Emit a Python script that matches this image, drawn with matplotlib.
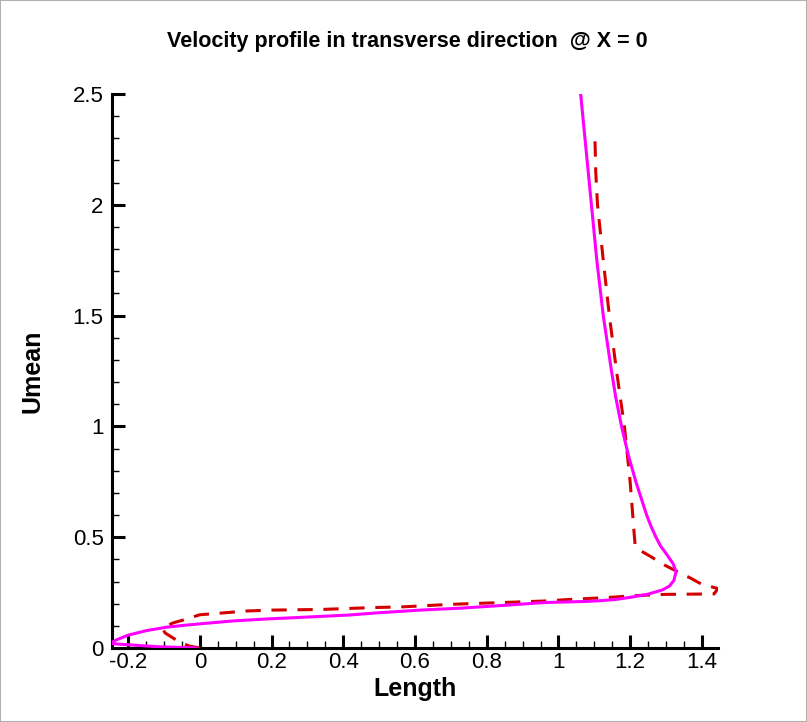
import matplotlib
matplotlib.use('Agg')
import matplotlib.pyplot as plt
from matplotlib.patches import Rectangle
from matplotlib.ticker import MultipleLocator, FormatStrFormatter

plt.rcParams['font.family'] = ['Liberation Sans', 'DejaVu Sans']
plt.rcParams['axes.unicode_minus'] = False

title = 'Velocity profile in transverse direction  @ X = 0'
x_label = 'Length'
y_label = 'Umean'

# сплошная линия (пурпурная)
sim_x = [-0.01, -0.12, -0.25, -0.235, -0.2, -0.15, -0.093, -0.04, 0.0, 0.092, 0.186,
         0.279, 0.418, 0.498, 0.614, 0.729, 0.844, 0.96, 1.075, 1.114, 1.16, 1.206,
         1.25, 1.29, 1.31, 1.322, 1.328, 1.32, 1.303, 1.285, 1.272, 1.258, 1.246,
         1.23, 1.216, 1.195, 1.176, 1.16, 1.148, 1.136, 1.125, 1.107, 1.092, 1.077, 1.062]
sim_y = [0.0, 0.006, 0.02, 0.035, 0.058, 0.078, 0.094, 0.103, 0.109, 0.122, 0.131,
         0.138, 0.149, 0.159, 0.171, 0.18, 0.192, 0.205, 0.21, 0.213, 0.219, 0.23,
         0.243, 0.262, 0.28, 0.305, 0.344, 0.38, 0.42, 0.46, 0.5, 0.55, 0.6,
         0.68, 0.75, 0.87, 1.0, 1.13, 1.25, 1.38, 1.5, 1.75, 2.0, 2.25, 2.5]

# пунктир (красный)
ref_x = [0.0, -0.03, -0.06, -0.097, -0.105, -0.075, -0.047, 0.0, 0.07, 0.13, 0.2,
         0.34, 0.475, 0.57, 0.7, 0.84, 0.96, 1.04, 1.13, 1.21, 1.3, 1.434, 1.445,
         1.398, 1.37, 1.318, 1.295, 1.258, 1.226, 1.214, 1.212, 1.2, 1.184, 1.162,
         1.142, 1.125, 1.109, 1.104, 1.102]
ref_y = [0.0, 0.009, 0.03, 0.068, 0.09, 0.113, 0.126, 0.15, 0.159, 0.167, 0.171,
         0.174, 0.182, 0.186, 0.197, 0.205, 0.212, 0.22, 0.227, 0.236, 0.242, 0.244, 0.268,
         0.289, 0.314, 0.356, 0.375, 0.412, 0.442, 0.46, 0.5, 0.75, 1.0, 1.25,
         1.5, 1.75, 2.0, 2.15, 2.29]


def main():
    fig = plt.figure(figsize=(8.07, 7.22), dpi=100)
    ax = fig.add_axes([112 / 807, 74 / 722, 606 / 807, 554 / 722])

    ax.plot(ref_x, ref_y, color='#d40000', lw=2.2, linestyle=(0, (5, 3.5)), zorder=3)
    ax.plot(sim_x, sim_y, color='#ff00ff', lw=2.2, zorder=4)

    ax.set_xlim(-0.245, 1.445)
    ax.set_ylim(0, 2.5)

    for side in ('top', 'right'):
        ax.spines[side].set_visible(False)
    for side in ('left', 'bottom'):
        ax.spines[side].set_linewidth(2.2)

    ax.xaxis.set_major_locator(MultipleLocator(0.2))
    ax.xaxis.set_minor_locator(MultipleLocator(0.05))
    ax.yaxis.set_major_locator(MultipleLocator(0.5))
    ax.yaxis.set_minor_locator(MultipleLocator(0.1))
    ax.xaxis.set_major_formatter(FormatStrFormatter('%g'))
    ax.yaxis.set_major_formatter(FormatStrFormatter('%g'))

    ax.tick_params(which='major', direction='in', length=9.5, width=2.2, labelsize=16)
    ax.tick_params(which='minor', direction='in', length=5, width=1)
    ax.tick_params(axis='y', pad=6)
    ax.tick_params(axis='x', pad=3)

    ax.set_xlabel(x_label, fontsize=18, fontweight='bold')
    ax.set_ylabel(y_label, fontsize=18, fontweight='bold')
    ax.xaxis.set_label_coords(0.5, -0.052)
    ax.yaxis.set_label_coords(-0.112, 0.5)

    fig.text(0.505, 1 - 42 / 722, title, ha='center', va='center',
             fontsize=15.5, fontweight='bold')

    fig.patches.append(Rectangle((0, 0), 1, 1, transform=fig.transFigure, fill=False,
                                 edgecolor='#b0b0b0', lw=1.5))

    fig.savefig('out.png', dpi=100)


if __name__ == "__main__":
    main()
